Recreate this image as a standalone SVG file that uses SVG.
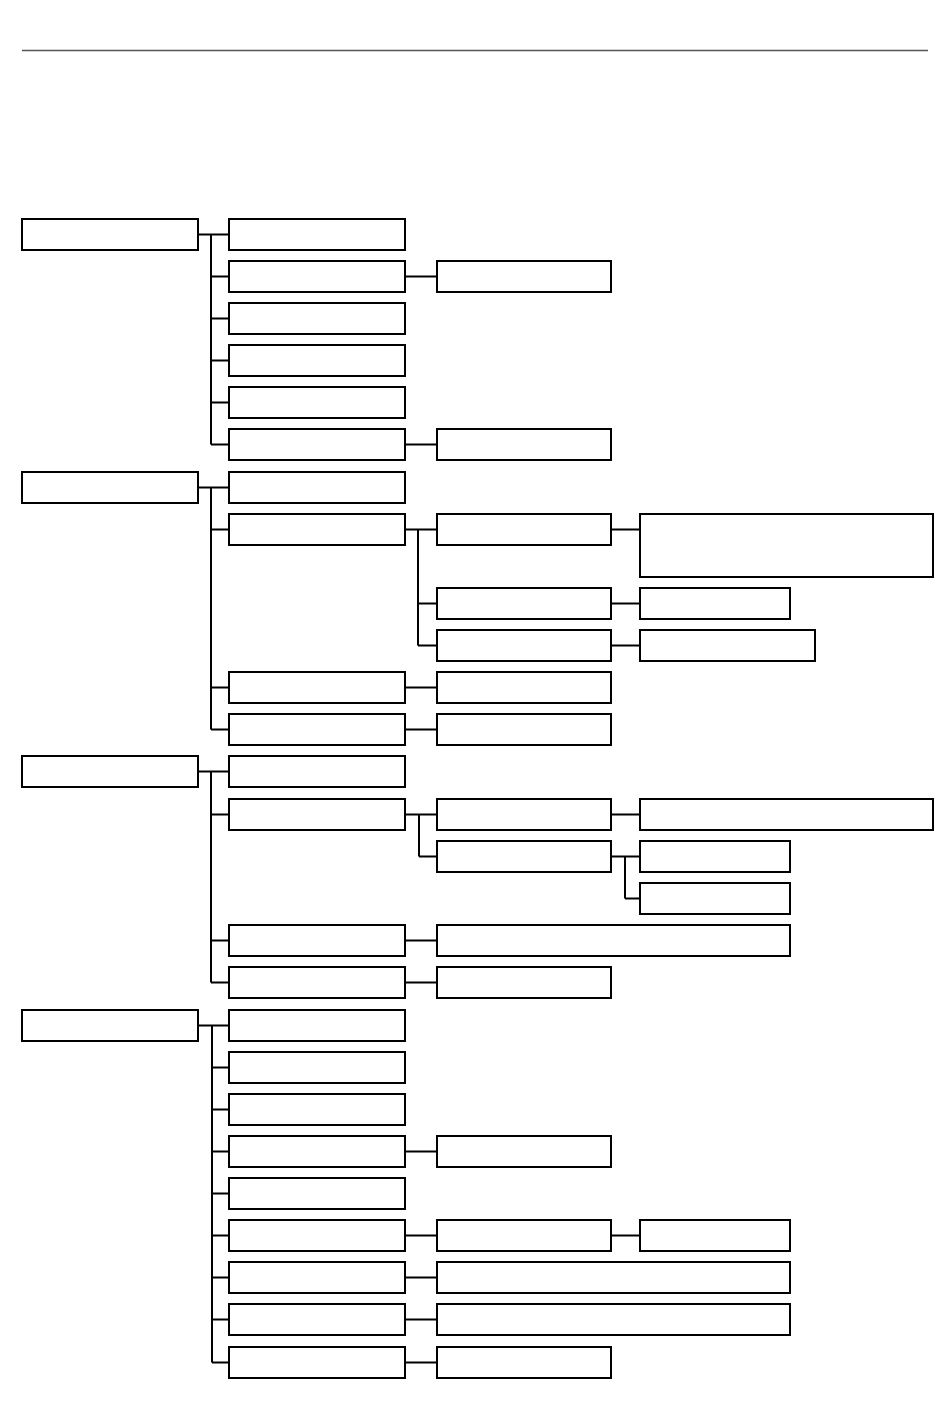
<svg xmlns="http://www.w3.org/2000/svg" width="950" height="1412" viewBox="0 0 950 1412">
<style>
.n{fill:#fff;stroke:#000;stroke-width:2}
.c{fill:none;stroke:#000;stroke-width:2}
</style>
<rect width="950" height="1412" fill="#fff"/>
<line x1="22" y1="50.5" x2="928" y2="50.5" stroke="#555" stroke-width="1.5"/>
<g id="connectors" class="c">
<path d="M198 234.5H229M211 234.5V444.5M211 276.5H229M211 318.5H229M211 360.5H229M211 402.5H229M211 444.5H229"/>
<path d="M405 276.5H437M405 444.5H437"/>
<path d="M198 487.5H229M211 487.5V729.5M211 529.5H229M211 687.5H229M211 729.5H229"/>
<path d="M405 529.5H437M418 529.5V645.5M418 603.5H437M418 645.5H437"/>
<path d="M611 529.5H640M611 603.5H640M611 645.5H640M405 687.5H437M405 729.5H437"/>
<path d="M198 771.5H229M211 771.5V982.5M211 814.5H229M211 940.5H229M211 982.5H229"/>
<path d="M405 814.5H437M419 814.5V856.5M419 856.5H437M611 814.5H640M611 856.5H640M625 856.5V898.5M625 898.5H640"/>
<path d="M405 940.5H437M405 982.5H437"/>
<path d="M198 1025.5H229M212 1025.5V1362.5M212 1067.5H229M212 1109.5H229M212 1151.5H229M212 1193.5H229M212 1235.5H229M212 1277.5H229M212 1319.5H229M212 1362.5H229"/>
<path d="M405 1151.5H437M405 1235.5H437M611 1235.5H640M405 1277.5H437M405 1319.5H437M405 1362.5H437"/>
</g>
<g id="g1">
<rect id="n1" class="n" x="22" y="219" width="176" height="31"/>
<rect id="n1a" class="n" x="229" y="219" width="176" height="31"/>
<rect id="n1b" class="n" x="229" y="261" width="176" height="31"/>
<rect id="n1b1" class="n" x="437" y="261" width="174" height="31"/>
<rect id="n1c" class="n" x="229" y="303" width="176" height="31"/>
<rect id="n1d" class="n" x="229" y="345" width="176" height="31"/>
<rect id="n1e" class="n" x="229" y="387" width="176" height="31"/>
<rect id="n1f" class="n" x="229" y="429" width="176" height="31"/>
<rect id="n1f1" class="n" x="437" y="429" width="174" height="31"/>
</g>
<g id="g2">
<rect id="n2" class="n" x="22" y="472" width="176" height="31"/>
<rect id="n2a" class="n" x="229" y="472" width="176" height="31"/>
<rect id="n2b" class="n" x="229" y="514" width="176" height="31"/>
<rect id="n2b1" class="n" x="437" y="514" width="174" height="31"/>
<rect id="n2b1a" class="n" x="640" y="514" width="293" height="63"/>
<rect id="n2b2" class="n" x="437" y="588" width="174" height="31"/>
<rect id="n2b2a" class="n" x="640" y="588" width="150" height="31"/>
<rect id="n2b3" class="n" x="437" y="630" width="174" height="31"/>
<rect id="n2b3a" class="n" x="640" y="630" width="175" height="31"/>
<rect id="n2c" class="n" x="229" y="672" width="176" height="31"/>
<rect id="n2c1" class="n" x="437" y="672" width="174" height="31"/>
<rect id="n2d" class="n" x="229" y="714" width="176" height="31"/>
<rect id="n2d1" class="n" x="437" y="714" width="174" height="31"/>
</g>
<g id="g3">
<rect id="n3" class="n" x="22" y="756" width="176" height="31"/>
<rect id="n3a" class="n" x="229" y="756" width="176" height="31"/>
<rect id="n3b" class="n" x="229" y="799" width="176" height="31"/>
<rect id="n3b1" class="n" x="437" y="799" width="174" height="31"/>
<rect id="n3b1a" class="n" x="640" y="799" width="293" height="31"/>
<rect id="n3b2" class="n" x="437" y="841" width="174" height="31"/>
<rect id="n3b2a" class="n" x="640" y="841" width="150" height="31"/>
<rect id="n3b2b" class="n" x="640" y="883" width="150" height="31"/>
<rect id="n3c" class="n" x="229" y="925" width="176" height="31"/>
<rect id="n3c1" class="n" x="437" y="925" width="353" height="31"/>
<rect id="n3d" class="n" x="229" y="967" width="176" height="31"/>
<rect id="n3d1" class="n" x="437" y="967" width="174" height="31"/>
</g>
<g id="g4">
<rect id="n4" class="n" x="22" y="1010" width="176" height="31"/>
<rect id="n4a" class="n" x="229" y="1010" width="176" height="31"/>
<rect id="n4b" class="n" x="229" y="1052" width="176" height="31"/>
<rect id="n4c" class="n" x="229" y="1094" width="176" height="31"/>
<rect id="n4d" class="n" x="229" y="1136" width="176" height="31"/>
<rect id="n4d1" class="n" x="437" y="1136" width="174" height="31"/>
<rect id="n4e" class="n" x="229" y="1178" width="176" height="31"/>
<rect id="n4f" class="n" x="229" y="1220" width="176" height="31"/>
<rect id="n4f1" class="n" x="437" y="1220" width="174" height="31"/>
<rect id="n4f1a" class="n" x="640" y="1220" width="150" height="31"/>
<rect id="n4g" class="n" x="229" y="1262" width="176" height="31"/>
<rect id="n4g1" class="n" x="437" y="1262" width="353" height="31"/>
<rect id="n4h" class="n" x="229" y="1304" width="176" height="31"/>
<rect id="n4h1" class="n" x="437" y="1304" width="353" height="31"/>
<rect id="n4i" class="n" x="229" y="1347" width="176" height="31"/>
<rect id="n4i1" class="n" x="437" y="1347" width="174" height="31"/>
</g>
</svg>
